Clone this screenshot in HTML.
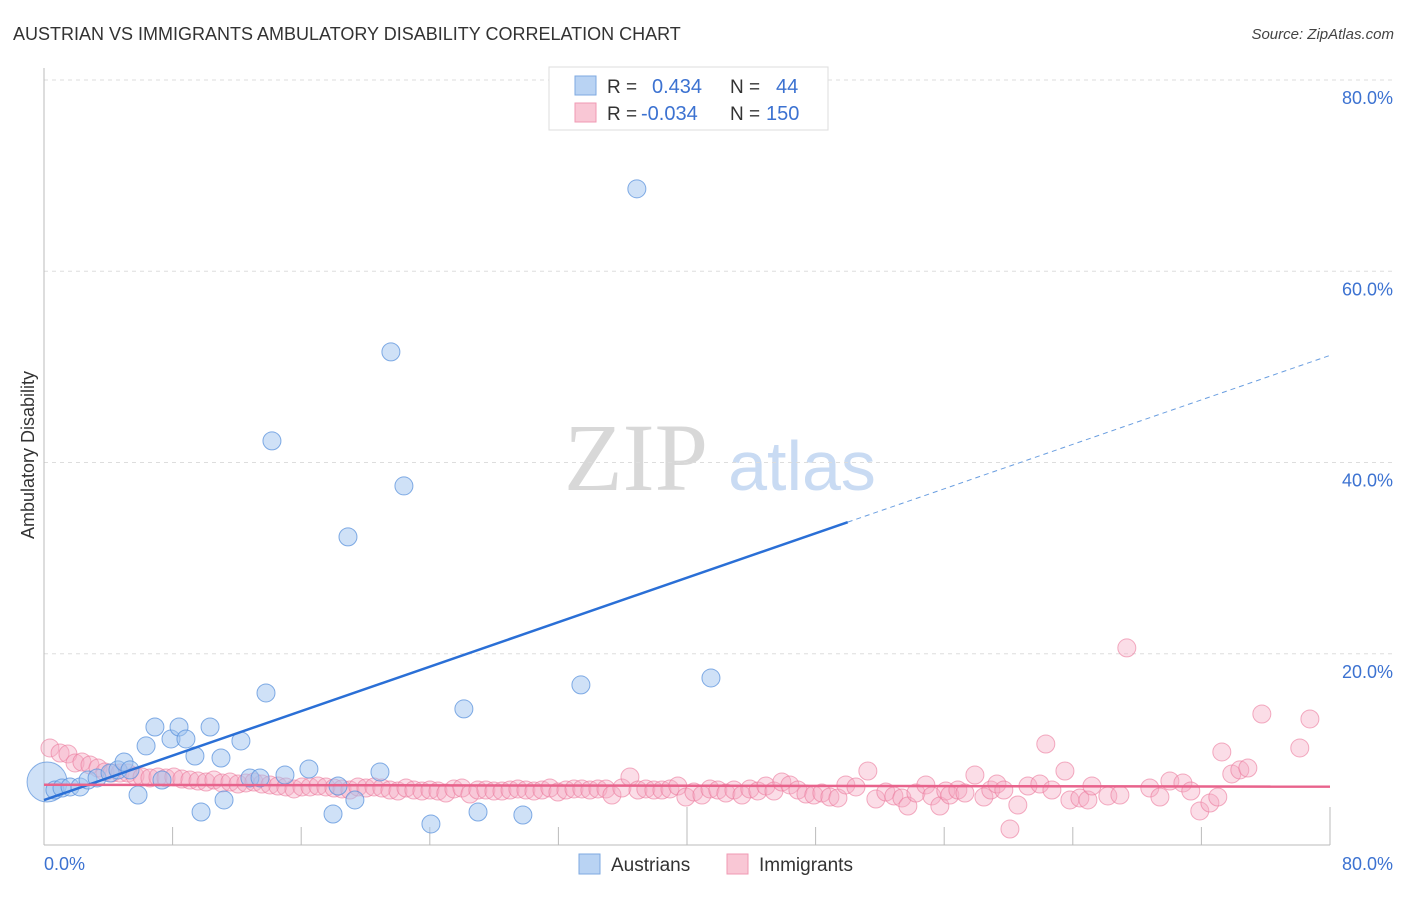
<!DOCTYPE html>
<html><head><meta charset="utf-8"><style>
body{margin:0;background:#fff;font-family:"Liberation Sans",sans-serif}
svg text{font-family:"Liberation Sans",sans-serif}
</style></head><body>
<svg id="c" width="1406" height="892">
<text x="13" y="40" font-size="18" fill="#333">AUSTRIAN VS IMMIGRANTS AMBULATORY DISABILITY CORRELATION CHART</text>
<text x="1394" y="39" font-size="15" fill="#444" font-style="italic" text-anchor="end">Source: ZipAtlas.com</text>
<text x="636" y="490" font-size="96" fill="#d8d8d8" font-family="Liberation Serif" text-anchor="middle" style="font-family:'Liberation Serif',serif">ZIP</text>
<text x="802" y="490" font-size="70" fill="#c9dbf3" text-anchor="middle">atlas</text>
<text transform="translate(34,455) rotate(-90)" font-size="18" fill="#333" text-anchor="middle">Ambulatory Disability</text>
<g id="grid"></g><g id="pts"></g><g id="lines"></g>
<g>
<rect x="549" y="67" width="279" height="63" fill="#fff" stroke="#ddd"/>
<rect x="575" y="76" width="21" height="19" fill="#b9d3f3" stroke="#7ea9e0"/>
<rect x="575" y="103" width="21" height="19" fill="#f9c7d5" stroke="#f09ab3"/>
<text x="607" y="93" font-size="19" fill="#333">R =</text><text x="652" y="93" font-size="20" fill="#3c72d1">0.434</text>
<text x="730" y="93" font-size="19" fill="#333">N =</text><text x="776" y="93" font-size="20" fill="#3c72d1">44</text>
<text x="607" y="120" font-size="19" fill="#333">R =</text><text x="641" y="120" font-size="20" fill="#3c72d1">-0.034</text>
<text x="730" y="120" font-size="19" fill="#333">N =</text><text x="766" y="120" font-size="20" fill="#3c72d1">150</text>
</g>
<g>
<rect x="579" y="854" width="21" height="20" fill="#b9d3f3" stroke="#7ea9e0"/>
<text x="611" y="871" font-size="19" fill="#333">Austrians</text>
<rect x="727" y="854" width="21" height="20" fill="#f9c7d5" stroke="#f09ab3"/>
<text x="759" y="871" font-size="19" fill="#333">Immigrants</text>
</g>
</svg>
<script>
const yTicks=[20,40,60,80];
const xTickLabels=["0.0%","80.0%"];
const blueX=[0.68,1.12,1.62,2.24,2.74,3.30,4.11,4.60,4.98,5.35,5.85,6.35,6.90,7.34,7.90,8.40,8.83,9.39,9.77,10.33,11.01,11.20,12.25,12.81,13.44,13.81,14.18,14.99,16.48,17.98,18.29,18.91,19.34,20.90,21.58,22.39,24.07,26.12,27.00,29.79,33.40,36.88,41.49];
const blueY=[5.75,5.96,6.07,6.07,6.80,7.01,7.53,7.85,8.68,7.85,5.23,10.36,12.34,6.80,11.09,12.34,11.09,9.31,3.45,12.34,9.10,4.71,10.88,7.01,7.01,15.90,42.26,7.32,7.95,3.24,6.17,32.22,4.71,7.64,51.57,37.55,2.20,14.23,3.45,3.14,16.74,68.62,17.47];
const pinkX=[0.37,1.00,1.49,1.93,2.36,2.86,3.36,3.79,4.23,4.73,5.22,5.66,6.10,6.59,7.09,7.59,8.08,8.58,9.08,9.58,10.08,10.57,11.07,11.57,12.07,12.56,13.06,13.56,14.06,14.55,15.05,15.55,16.05,16.55,17.04,17.54,18.04,18.54,19.03,19.53,20.03,20.53,21.02,21.52,22.02,22.52,23.01,23.51,24.01,24.51,25.00,25.50,26.00,26.50,26.99,27.49,27.99,28.49,28.99,29.48,29.98,30.48,30.98,31.47,31.97,32.47,32.97,33.46,33.96,34.46,34.96,35.33,35.95,36.45,36.95,37.44,37.94,38.44,38.94,39.43,39.93,40.43,40.93,41.43,41.92,42.42,42.92,43.42,43.91,44.41,44.91,45.41,45.90,46.40,46.90,47.40,47.89,48.39,48.89,49.39,49.88,50.51,51.25,51.75,52.37,52.87,53.37,53.74,54.24,54.86,55.23,55.73,56.10,56.35,56.85,57.29,57.91,58.47,58.90,59.28,59.71,60.09,60.58,61.21,61.95,62.32,62.70,63.51,63.82,64.44,64.94,65.19,66.18,66.93,67.36,68.79,69.42,70.04,70.85,71.34,71.90,72.53,73.02,73.27,73.89,74.39,74.89,75.76,78.12,78.75];
const pinkY=[10.15,9.62,9.52,8.58,8.68,8.37,8.05,7.64,7.53,7.53,7.53,7.22,7.11,7.01,7.11,7.01,7.11,6.90,6.80,6.69,6.59,6.80,6.49,6.59,6.38,6.49,6.59,6.38,6.28,6.17,6.07,5.86,6.07,6.07,6.17,6.07,5.96,5.86,5.75,6.07,5.96,6.07,5.96,5.75,5.65,5.96,5.75,5.65,5.75,5.65,5.44,5.86,5.96,5.33,5.75,5.75,5.65,5.65,5.75,5.86,5.75,5.65,5.75,5.96,5.54,5.75,5.86,5.86,5.75,5.86,5.86,5.23,5.96,7.11,5.75,5.86,5.75,5.75,5.86,6.17,5.02,5.54,5.23,5.86,5.75,5.44,5.75,5.23,5.86,5.65,6.17,5.65,6.59,6.28,5.75,5.33,5.23,5.44,5.02,4.92,6.28,6.07,7.74,4.81,5.54,5.13,4.92,4.08,5.44,6.28,5.13,4.08,5.65,5.23,5.75,5.44,7.32,5.02,5.75,6.38,5.75,1.67,4.18,6.17,6.38,10.56,5.75,7.74,4.71,4.92,4.71,6.17,5.13,5.23,20.61,5.96,5.02,6.69,6.49,5.65,3.56,4.39,5.02,9.73,7.43,7.85,8.05,13.70,10.15,13.18];
const bigBlue=[0.19,6.59];
const blueFit=[4.7,51.2]; const blueSolidEnd=50;
const pinkFit=[6.3,6.1];
const X0=44,X1=1330,Y0=845,Y1=80;
const sx=v=>X0+v/80*(X1-X0), sy=v=>Y0-v/80*(Y0-Y1);
const NS="http://www.w3.org/2000/svg";
function mk(t,a,p){const e=document.createElementNS(NS,t);for(const k in a)e.setAttribute(k,a[k]);p.appendChild(e);return e;}
const grid=document.getElementById('grid');
yTicks.forEach(v=>{
 const l=mk('line',{x1:X0,x2:1393,y1:sy(v),y2:sy(v),stroke:'#ddd','stroke-dasharray':'4,4'},grid);
 
 
 const t=mk('text',{x:1393,y:sy(v)+24,'font-size':18,fill:'#3c72d1','text-anchor':'end'},grid);
 t.textContent=v.toFixed(1)+'%';
 
 
});
const ax=mk('line',{x1:X0,x2:X0,y1:68,y2:Y0,stroke:'#bbb'},grid);


const bx=mk('line',{x1:X0,x2:X1,y1:Y0,y2:Y0,stroke:'#bbb'},grid);


for(let i=1;i<=10;i++){const v=i*8;const tall=(i%5===0);
 const tk=mk('line',{x1:sx(v),x2:sx(v),y1:Y0,y2:tall?807:827,stroke:'#bbb'},grid);
 
 }
[[0,'start'],[80,'end']].forEach((p,i)=>{const t=mk('text',{x:i?1393:44,y:870,'font-size':18,fill:'#3c72d1','text-anchor':p[1]},grid);t.textContent=xTickLabels[i];
 
 });
const pts=document.getElementById('pts');
pinkX.forEach((x,i)=>{const c=mk('circle',{cx:sx(x),cy:sy(pinkY[i]),r:9,fill:'rgba(246,170,194,0.4)',stroke:'rgba(235,120,155,0.6)'},pts);
 
 });
const bb=mk('circle',{cx:sx(bigBlue[0]),cy:sy(bigBlue[1]),r:20,fill:'rgba(160,195,240,0.5)',stroke:'rgba(90,145,220,0.7)'},pts);


blueX.forEach((x,i)=>{const c=mk('circle',{cx:sx(x),cy:sy(blueY[i]),r:9,fill:'rgba(160,195,240,0.5)',stroke:'rgba(90,145,220,0.75)'},pts);
 
 });
const lines=document.getElementById('lines');
const fy=x=>blueFit[0]+(blueFit[1]-blueFit[0])*x/80;
const l1=mk('line',{x1:sx(0),y1:sy(fy(0)),x2:sx(blueSolidEnd),y2:sy(fy(blueSolidEnd)),stroke:'#2a6fd6','stroke-width':2.5},lines);


const l2=mk('line',{x1:sx(blueSolidEnd),y1:sy(fy(blueSolidEnd)),x2:sx(80),y2:sy(fy(80)),stroke:'#6a9ee0','stroke-width':1,'stroke-dasharray':'5,4'},lines);


const l3=mk('line',{x1:sx(0),y1:sy(pinkFit[0]),x2:sx(80),y2:sy(pinkFit[1]),stroke:'#e8638c','stroke-width':2.5},lines);


</script>
</body></html>
